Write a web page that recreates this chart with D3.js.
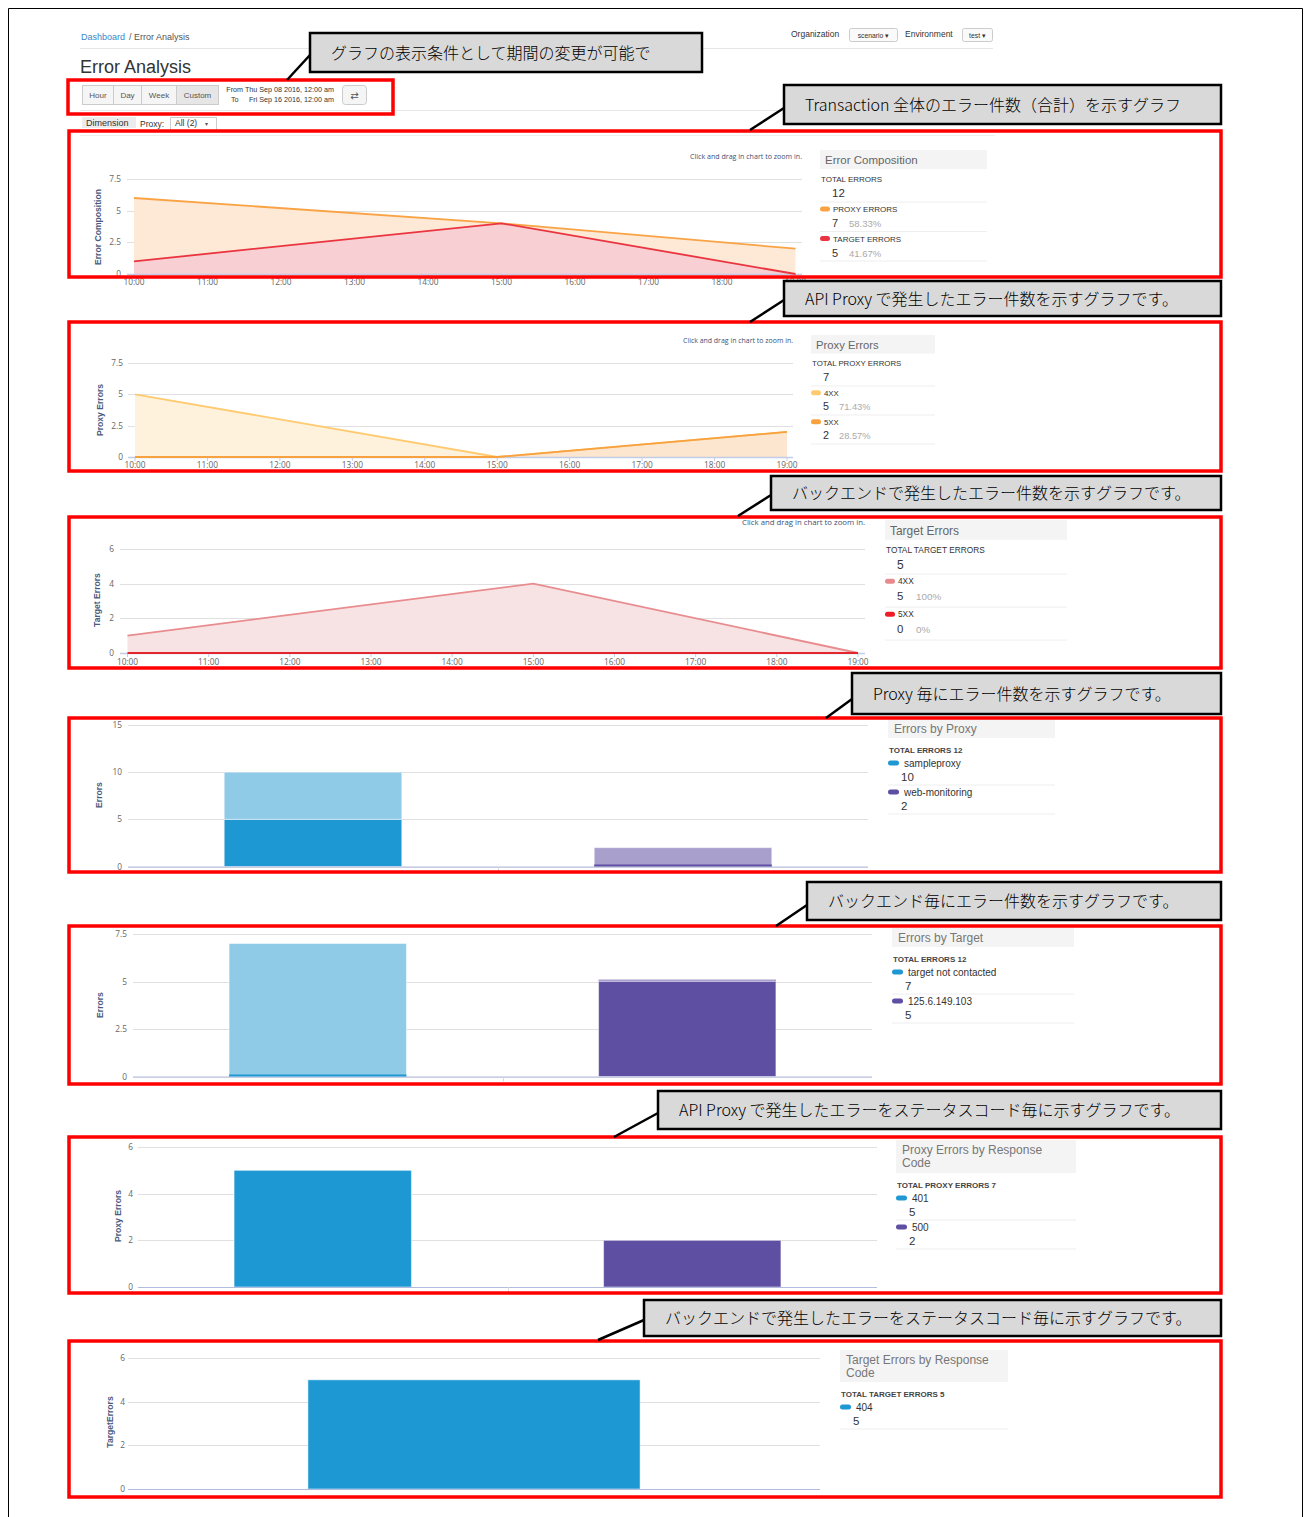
<!DOCTYPE html>
<html><head><meta charset="utf-8">
<script src="https://cdn.jsdelivr.net/npm/d3@7"></script>
<style>
body{margin:0;background:#fff}
svg{display:block}
</style></head><body>
<svg id="page" width="1304" height="1517"></svg>
<script>
// ---------- data ----------
const hourTicks = [10, 11, 12, 13, 14, 15, 16, 17, 18, 19];
const sampleHours = [10, 15, 19];
const proxy4xx = [5, 0, 0];
const proxy5xx = [0, 0, 2];
const target4xx = [1, 4, 0];
const target5xx = [0, 0, 0];

const compositionTicks = [0, 2.5, 5, 7.5];
const proxyTicks = [0, 2.5, 5, 7.5];
const targetTicks = [0, 2, 4, 6];

const proxyNames = ["sampleproxy", "web-monitoring"];
const proxyLower = [5, 0];
const proxyUpper = [5, 2];
const byProxyTicks = [0, 5, 10, 15];

const targetNames = ["target not contacted", "125.6.149.103"];
const targetLower = [0, 5];
const targetUpper = [7, 0];
const byTargetTicks = [0, 2.5, 5, 7.5];

const proxyCodes = ["401", "500"];
const proxyCodeErrors = [5, 2];
const proxyCodeTicks = [0, 2, 4, 6];

const targetCodes = ["404"];
const targetCodeErrors = [5];
const targetCodeTicks = [0, 2, 4, 6];

const timeButtons = ["Hour", "Day", "Week", "Custom"];
const calloutTexts = [
  "グラフの表示条件として期間の変更が可能で",
  "Transaction 全体のエラー件数（合計）を示すグラフ",
  "API Proxy で発生したエラー件数を示すグラフです。",
  "バックエンドで発生したエラー件数を示すグラフです。",
  "Proxy 毎にエラー件数を示すグラフです。",
  "バックエンド毎にエラー件数を示すグラフです。",
  "API Proxy で発生したエラーをステータスコード毎に示すグラフです。",
  "バックエンドで発生したエラーをステータスコード毎に示すグラフです。"
];

// ---------- helpers ----------
const SANS = "'Liberation Sans', Arial, sans-serif";
const OPEN = "'Open Sans', 'DejaVu Sans', sans-serif";
const JP = "'Noto Sans CJK JP', sans-serif";
const svg = d3.select("#page");
const pct = v => (Math.round(v * 10000) / 100) + "%";
const addUp = (a, b) => a.map((v, i) => v + b[i]);

svg.append("rect").attr("width", 1304).attr("height", 1517).attr("fill", "#fff");

// ---------- page header ----------
const head = svg.append("g").attr("font-family", SANS);
head.append("text").attr("x", 81).attr("y", 40).attr("font-size", 9).attr("fill", "#3a87c8").text("Dashboard");
head.append("text").attr("x", 129).attr("y", 40).attr("font-size", 9).attr("fill", "#555").text("/ Error Analysis");
head.append("line").attr("x1", 80).attr("x2", 993).attr("y1", 48.5).attr("y2", 48.5).attr("stroke", "#e6e6e6");
head.append("text").attr("x", 80).attr("y", 73).attr("font-size", 18).attr("fill", "#333").text("Error Analysis");

head.append("text").attr("x", 791).attr("y", 37).attr("font-size", 8.5).attr("fill", "#333").text("Organization");
head.append("rect").attr("x", 849.5).attr("y", 28.5).attr("width", 48).attr("height", 13).attr("rx", 2)
  .attr("fill", "#fafafa").attr("stroke", "#ccc");
head.append("text").attr("x", 873.5).attr("y", 38).attr("text-anchor", "middle").attr("font-size", 6.8).attr("fill", "#333").text("scenario ▾");
head.append("text").attr("x", 905).attr("y", 37).attr("font-size", 8.5).attr("fill", "#333").text("Environment");
head.append("rect").attr("x", 962.5).attr("y", 28.5).attr("width", 30).attr("height", 13).attr("rx", 2)
  .attr("fill", "#fafafa").attr("stroke", "#ccc");
head.append("text").attr("x", 977.5).attr("y", 38).attr("text-anchor", "middle").attr("font-size", 6.8).attr("fill", "#333").text("test ▾");

// period buttons
const btnEdges = [82, 113, 141, 176, 218];
timeButtons.forEach((t, i) => {
  head.append("rect").attr("x", btnEdges[i] + 0.5).attr("y", 85.5).attr("width", btnEdges[i + 1] - btnEdges[i]).attr("height", 19)
    .attr("fill", i === 3 ? "#e6e6e6" : "#f5f5f5").attr("stroke", "#ccc");
  head.append("text").attr("x", (btnEdges[i] + btnEdges[i + 1]) / 2 + 0.5).attr("y", 97.5).attr("text-anchor", "middle")
    .attr("font-size", 8).attr("fill", "#555").text(t);
});
head.append("text").attr("x", 334).attr("y", 92).attr("text-anchor", "end").attr("font-size", 7.2).attr("fill", "#333")
  .text("From Thu Sep 08 2016, 12:00 am");
head.append("text").attr("x", 231).attr("y", 102).attr("font-size", 7.2).attr("fill", "#333").text("To");
head.append("text").attr("x", 334).attr("y", 102).attr("text-anchor", "end").attr("font-size", 7.2).attr("fill", "#333")
  .text("Fri Sep 16 2016, 12:00 am");
head.append("rect").attr("x", 342.5).attr("y", 85.5).attr("width", 24).attr("height", 19).attr("rx", 3)
  .attr("fill", "#f5f5f5").attr("stroke", "#ccc");
head.append("text").attr("x", 354.5).attr("y", 98.5).attr("text-anchor", "middle").attr("font-family", "'DejaVu Sans'")
  .attr("font-size", 10).attr("fill", "#555").text("⇄");
head.append("line").attr("x1", 80).attr("x2", 993).attr("y1", 110.5).attr("y2", 110.5).attr("stroke", "#e8e8e8");

// dimension selector
head.append("rect").attr("x", 82).attr("y", 117).attr("width", 54).attr("height", 11).attr("fill", "#ececec");
head.append("text").attr("x", 86).attr("y", 126).attr("font-size", 9).attr("fill", "#333").text("Dimension");
head.append("text").attr("x", 140).attr("y", 127).attr("font-size", 8.5).attr("fill", "#333").text("Proxy:");
head.append("path").attr("d", "M170.5,131V117.5H216.5V131").attr("fill", "none").attr("stroke", "#ccc");
head.append("text").attr("x", 175).attr("y", 126).attr("font-size", 8.5).attr("fill", "#333").text("All (2)");
head.append("text").attr("x", 205).attr("y", 126).attr("font-size", 6).attr("fill", "#555").text("▾");

// panel separator above first chart
svg.append("line").attr("x1", 80).attr("x2", 995).attr("y1", 135.5).attr("y2", 135.5).attr("stroke", "#efefef");

// ---------- stacked area charts ----------
function areaChart(o) {
  const g = svg.append("g");
  const x = d3.scaleLinear().domain([10, 19]).range(o.xr);
  const y = d3.scaleLinear().domain([0, d3.max(o.yt)]).range(o.yr);

  g.selectAll(null).data(o.yt).join("line")
    .attr("x1", o.gx[0]).attr("x2", o.gx[1])
    .attr("y1", d => Math.round(y(d)) + 0.5).attr("y2", d => Math.round(y(d)) + 0.5)
    .attr("stroke", "#e0e0e0");
  g.selectAll(null).data(o.yt).join("text")
    .attr("x", o.ylx).attr("y", d => y(d) + 3).attr("text-anchor", "end")
    .attr("font-family", OPEN).attr("font-size", 8.3).attr("fill", "#666").text(d => d);

  const rows = sampleHours.map((h, i) => {
    const r = { h };
    o.keys.forEach((k, j) => r[k] = o.series[j][i]);
    return r;
  });
  const stacked = d3.stack().keys(o.keys)(rows);
  const area = d3.area().x(d => x(d.data.h)).y0(d => y(d[0])).y1(d => y(d[1]));
  const line = d3.line().x(d => x(d.data.h)).y(d => y(d[1]));
  stacked.forEach((s, j) => g.append("path").attr("d", area(s)).attr("fill", o.fills[j]));

  // x axis
  g.append("line").attr("x1", o.gx[0]).attr("x2", o.gx[1]).attr("y1", y(0) + 0.5).attr("y2", y(0) + 0.5)
    .attr("stroke", "#c3cce6").attr("stroke-width", 1.5);
  g.selectAll(null).data(hourTicks).join("line")
    .attr("x1", d => x(d)).attr("x2", d => x(d)).attr("y1", y(0)).attr("y2", y(0) + 4)
    .attr("stroke", "#c3cce6");

  for (let j = stacked.length - 1; j >= 0; j--) {
    g.append("path").attr("d", line(stacked[j])).attr("fill", "none")
      .attr("stroke", o.strokes[j]).attr("stroke-width", 1.8);
  }

  g.selectAll(null).data(hourTicks).join("text")
    .attr("x", d => x(d)).attr("y", o.xly).attr("text-anchor", "middle")
    .attr("font-family", OPEN).attr("font-size", 8.3).attr("fill", "#666").text(d => d + ":00");

  g.append("text").attr("transform", `translate(${o.tx},${o.ty}) rotate(-90)`)
    .attr("text-anchor", "middle").attr("font-family", SANS).attr("font-weight", "bold")
    .attr("font-size", 8.6).attr("fill", "#4b5b7e").text(o.title);
  g.append("text").attr("x", o.hint[0]).attr("y", o.hint[1]).attr("text-anchor", "end")
    .attr("font-family", OPEN).attr("font-size", 6.5).attr("fill", "#3d4f74")
    .attr("textLength", o.hint[2]).attr("lengthAdjust", "spacingAndGlyphs")
    .text("Click and drag in chart to zoom in.");
}

// legend with header, total and share rows
function legendA(o) {
  const g = svg.append("g").attr("font-family", SANS);
  const k = o.k;
  g.append("rect").attr("x", o.x).attr("y", o.top).attr("width", o.w).attr("height", 19 * k).attr("fill", "#f4f4f4");
  g.append("text").attr("x", o.x + 5).attr("y", o.top + 14 * k).attr("font-size", 11.5 * k).attr("fill", "#666").text(o.title);
  g.append("text").attr("x", o.x + 1).attr("y", o.top + 32 * k).attr("font-size", 8 * k).attr("fill", "#333").text(o.totalLabel);
  g.append("text").attr("x", o.x + 12).attr("y", o.top + 47 * k).attr("font-size", 11.5 * k).attr("fill", "#333").text(o.total);
  const b0 = o.top + 52 * k;
  g.append("line").attr("x1", o.x).attr("x2", o.x + o.w).attr("y1", b0).attr("y2", b0).attr("stroke", "#eee");
  o.items.forEach((it, i) => {
    const b = b0 + i * o.step;
    g.append("rect").attr("x", o.x).attr("y", b + 4.5 * k).attr("width", 10).attr("height", 5).attr("rx", 2.5).attr("fill", it.color);
    g.append("text").attr("x", o.x + 13).attr("y", b + 10 * k).attr("font-size", 8 * k).attr("fill", "#333").text(it.label);
    g.append("text").attr("x", o.x + 12).attr("y", b + 25 * k).attr("font-size", 11 * k).attr("fill", "#333").text(it.value);
    g.append("text").attr("x", o.x + o.pdx).attr("y", b + 25 * k).attr("font-size", 9.5 * k).attr("fill", "#aaa").text(it.share);
    g.append("line").attr("x1", o.x).attr("x2", o.x + o.w).attr("y1", b + o.step).attr("y2", b + o.step).attr("stroke", "#eee");
  });
}

// ---------- category bar charts ----------
function barChart(o) {
  const g = svg.append("g");
  const x = d3.scaleBand().domain(o.cats).range(o.xr).paddingInner(0.52).paddingOuter(0.26);
  const y = d3.scaleLinear().domain([0, d3.max(o.yt)]).range(o.yr);

  g.selectAll(null).data(o.yt).join("line")
    .attr("x1", o.xr[0]).attr("x2", o.xr[1])
    .attr("y1", d => Math.round(y(d)) + 0.5).attr("y2", d => Math.round(y(d)) + 0.5)
    .attr("stroke", "#e0e0e0");
  g.selectAll(null).data(o.yt).join("text")
    .attr("x", o.ylx).attr("y", d => y(d) + 3).attr("text-anchor", "end")
    .attr("font-family", OPEN).attr("font-size", 8.3).attr("fill", "#666").text(d => d);

  const rows = o.cats.map((c, i) => {
    const r = { c };
    o.keys.forEach((k, j) => r[k] = o.layers[j][i]);
    return r;
  });
  const stacked = d3.stack().keys(o.keys)(rows);
  const zeros = [];
  stacked.forEach((s, j) => s.forEach((d, i) => {
    if (d[1] - d[0] > 0) {
      g.append("rect").attr("x", x(d.data.c)).attr("y", y(d[1])).attr("width", x.bandwidth())
        .attr("height", y(d[0]) - y(d[1])).attr("fill", o.palette[i][j])
        .attr("stroke", "#fff").attr("stroke-opacity", 0.5);
    } else {
      zeros.push({ d, i, j });
    }
  }));

  g.append("line").attr("x1", o.xr[0]).attr("x2", o.xr[1]).attr("y1", y(0) + 0.5).attr("y2", y(0) + 0.5)
    .attr("stroke", "#b3bbe0").attr("stroke-width", 1.2);
  for (let i = 1; i < o.cats.length; i++) {
    const bx = Math.round(o.xr[0] + i * x.step()) + 0.5;
    g.append("line").attr("x1", bx).attr("x2", bx).attr("y1", y(0)).attr("y2", y(0) + 5).attr("stroke", "#d8d8d8");
  }
  // empty stack segments still show as a thin stripe
  zeros.forEach(({ d, i, j }) => {
    g.append("rect").attr("x", x(d.data.c)).attr("y", y(d[0]) - 2).attr("width", x.bandwidth())
      .attr("height", 2).attr("fill", o.palette[i][j]);
  });

  g.append("text").attr("transform", `translate(${o.tx},${o.ty}) rotate(-90)`)
    .attr("text-anchor", "middle").attr("font-family", SANS).attr("font-weight", "bold")
    .attr("font-size", 8.6).attr("fill", "#4b5b7e").text(o.title);
}

// legend with inline total and one row per category
function legendB(o) {
  const g = svg.append("g").attr("font-family", SANS);
  g.append("rect").attr("x", o.x).attr("y", o.top).attr("width", o.w).attr("height", o.bottom - o.top).attr("fill", "#f4f4f4");
  o.titleLines.forEach((t, i) => {
    g.append("text").attr("x", o.x + 6).attr("y", o.top + 13.5 + i * 13.5).attr("font-size", 12).attr("fill", "#777").text(t);
  });
  g.append("text").attr("x", o.x + 1).attr("y", o.bottom + 14.5).attr("font-size", 8).attr("font-weight", "bold")
    .attr("fill", "#444").text(o.totalText);
  o.items.forEach((it, i) => {
    const b = o.bottom + 18 + i * 29;
    g.append("rect").attr("x", o.x).attr("y", b + 4.5).attr("width", 11).attr("height", 5).attr("rx", 2.5).attr("fill", it.color);
    g.append("text").attr("x", o.x + 16).attr("y", b + 10.5).attr("font-size", 10).attr("fill", "#333").text(it.label);
    g.append("text").attr("x", o.x + 13).attr("y", b + 25).attr("font-size", 11.5).attr("fill", "#333").text(it.value);
    g.append("line").attr("x1", o.x).attr("x2", o.x + o.w).attr("y1", b + 29).attr("y2", b + 29).attr("stroke", "#eee");
  });
}

// ---------- chart 1: error composition ----------
const proxyAll = addUp(proxy4xx, proxy5xx);
const targetAll = addUp(target4xx, target5xx);
const proxySum = d3.sum(proxyAll), targetSum = d3.sum(targetAll), errorSum = proxySum + targetSum;

areaChart({
  xr: [134, 795.5], yr: [274, 179], yt: compositionTicks, gx: [127, 802], ylx: 121, xly: 285,
  keys: ["target", "proxy"], series: [targetAll, proxyAll],
  fills: ["#f8d0d3", "#fde9d5"], strokes: ["#ea3540", "#f9a345"],
  title: "Error Composition", tx: 101, ty: 227, hint: [802, 159, 112]
});
legendA({
  x: 820, top: 150, w: 167, k: 1, step: 29.5, pdx: 29,
  title: "Error Composition", totalLabel: "TOTAL ERRORS", total: errorSum,
  items: [
    { color: "#f9a345", label: "PROXY ERRORS", value: proxySum, share: pct(proxySum / errorSum) },
    { color: "#ea3540", label: "TARGET ERRORS", value: targetSum, share: pct(targetSum / errorSum) }
  ]
});

// ---------- chart 2: proxy errors ----------
areaChart({
  xr: [135, 787], yr: [457, 363], yt: proxyTicks, gx: [128, 793], ylx: 123, xly: 468,
  keys: ["x5", "x4"], series: [proxy5xx, proxy4xx],
  fills: ["#fde6cf", "#fff2dc"], strokes: ["#f7a13f", "#ffca70"],
  title: "Proxy Errors", tx: 103, ty: 410, hint: [793, 343, 110]
});
legendA({
  x: 811, top: 335, w: 124, k: 0.98, step: 29, pdx: 28,
  title: "Proxy Errors", totalLabel: "TOTAL PROXY ERRORS", total: proxySum,
  items: [
    { color: "#ffcb6e", label: "4XX", value: d3.sum(proxy4xx), share: pct(d3.sum(proxy4xx) / proxySum) },
    { color: "#f7a13f", label: "5XX", value: d3.sum(proxy5xx), share: pct(d3.sum(proxy5xx) / proxySum) }
  ]
});

// ---------- chart 3: target errors ----------
areaChart({
  xr: [127.5, 858], yr: [653, 549], yt: targetTicks, gx: [120, 865], ylx: 114, xly: 665,
  keys: ["x5", "x4"], series: [target5xx, target4xx],
  fills: ["#f9e0e1", "#f8e3e4"], strokes: ["#e3262d", "#e98c8f"],
  title: "Target Errors", tx: 100, ty: 600, hint: [865, 525, 123]
});
legendA({
  x: 885, top: 520, w: 182, k: 1.04, step: 33, pdx: 31,
  title: "Target Errors", totalLabel: "TOTAL TARGET ERRORS", total: targetSum,
  items: [
    { color: "#e88a8d", label: "4XX", value: d3.sum(target4xx), share: pct(d3.sum(target4xx) / targetSum) },
    { color: "#ee1c25", label: "5XX", value: d3.sum(target5xx), share: pct(d3.sum(target5xx) / targetSum) }
  ]
});

// ---------- chart 4: errors by proxy ----------
const blueShades = ["#1e98d3", "#8fcae7"];
const purpleShades = ["#5f4fa3", "#a99fcd"];
barChart({
  cats: proxyNames, keys: ["lower", "upper"], layers: [proxyLower, proxyUpper],
  palette: [blueShades, purpleShades],
  xr: [128, 868], yr: [866.5, 725], yt: byProxyTicks, ylx: 122,
  title: "Errors", tx: 102, ty: 795
});
const proxyCounts = addUp(proxyLower, proxyUpper);
legendB({
  x: 888, top: 719, bottom: 738, w: 167, titleLines: ["Errors by Proxy"],
  totalText: "TOTAL ERRORS  " + d3.sum(proxyCounts),
  items: proxyNames.map((n, i) => ({ color: [blueShades, purpleShades][i][0], label: n, value: proxyCounts[i] }))
});

// ---------- chart 5: errors by target ----------
barChart({
  cats: targetNames, keys: ["lower", "upper"], layers: [targetLower, targetUpper],
  palette: [blueShades, purpleShades],
  xr: [133, 872], yr: [1076.5, 934], yt: byTargetTicks, ylx: 127,
  title: "Errors", tx: 103, ty: 1005
});
const targetCounts = addUp(targetLower, targetUpper);
legendB({
  x: 892, top: 928, bottom: 947, w: 182, titleLines: ["Errors by Target"],
  totalText: "TOTAL ERRORS  " + d3.sum(targetCounts),
  items: targetNames.map((n, i) => ({ color: [blueShades, purpleShades][i][0], label: n, value: targetCounts[i] }))
});

// ---------- chart 6: proxy errors by response code ----------
barChart({
  cats: proxyCodes, keys: ["count"], layers: [proxyCodeErrors],
  palette: [blueShades, purpleShades],
  xr: [138, 877], yr: [1287, 1147], yt: proxyCodeTicks, ylx: 133,
  title: "Proxy Errors", tx: 121, ty: 1216
});
legendB({
  x: 896, top: 1140, bottom: 1173, w: 180, titleLines: ["Proxy Errors by Response", "Code"],
  totalText: "TOTAL PROXY ERRORS  " + d3.sum(proxyCodeErrors),
  items: proxyCodes.map((n, i) => ({ color: [blueShades, purpleShades][i][0], label: n, value: proxyCodeErrors[i] }))
});

// ---------- chart 7: target errors by response code ----------
barChart({
  cats: targetCodes, keys: ["count"], layers: [targetCodeErrors],
  palette: [blueShades],
  xr: [128, 820], yr: [1489, 1358], yt: targetCodeTicks, ylx: 125,
  title: "TargetErrors", tx: 113, ty: 1422
});
legendB({
  x: 840, top: 1350, bottom: 1382, w: 168, titleLines: ["Target Errors by Response", "Code"],
  totalText: "TOTAL TARGET ERRORS  " + d3.sum(targetCodeErrors),
  items: targetCodes.map((n, i) => ({ color: blueShades[0], label: n, value: targetCodeErrors[i] }))
});

// ---------- highlight frames ----------
const frames = [
  [68, 80, 393, 114],
  [69, 131, 1221, 277],
  [69, 322, 1221, 471],
  [69, 517, 1221, 668],
  [69, 718, 1221, 872],
  [69, 926, 1221, 1084],
  [69, 1137, 1221, 1293],
  [69, 1341, 1221, 1497]
];
svg.selectAll(null).data(frames).join("rect")
  .attr("x", d => d[0]).attr("y", d => d[1]).attr("width", d => d[2] - d[0]).attr("height", d => d[3] - d[1])
  .attr("fill", "none").attr("stroke", "#ff0000").attr("stroke-width", 3.5);

// ---------- annotation callouts ----------
// [left, top, right, bottom, pointer tip x, pointer tip y, pointer base y]
const calloutBoxes = [
  [310, 33, 702, 72, 287, 80, 55],
  [784, 85, 1221, 124, 750, 130, 108],
  [784, 281, 1221, 316, 750, 322, 300],
  [771, 476, 1221, 510, 738, 516, 495],
  [852, 673, 1221, 714, 826, 718, 699],
  [807, 882, 1221, 920, 776, 926, 905],
  [658, 1091, 1221, 1129, 614, 1137, 1113],
  [644, 1300, 1221, 1336, 598, 1340, 1320]
];
calloutBoxes.forEach((b, i) => {
  svg.append("line").attr("x1", b[4]).attr("y1", b[5]).attr("x2", b[0]).attr("y2", b[6])
    .attr("stroke", "#000").attr("stroke-width", 2.5);
  svg.append("rect").attr("x", b[0]).attr("y", b[1]).attr("width", b[2] - b[0]).attr("height", b[3] - b[1])
    .attr("fill", "#d9d9d9").attr("stroke", "#000").attr("stroke-width", 2.5);
  svg.append("text").attr("x", b[0] + 21).attr("y", (b[1] + b[3]) / 2 + 6)
    .attr("font-family", JP).attr("font-weight", 300).attr("font-size", 16).attr("fill", "#000").text(calloutTexts[i]);
});

// outer page frame
svg.append("path").attr("d", "M8.5,1517V8.5H1302.5V1517").attr("fill", "none").attr("stroke", "#000").attr("stroke-width", 1);
</script>
</body></html>
